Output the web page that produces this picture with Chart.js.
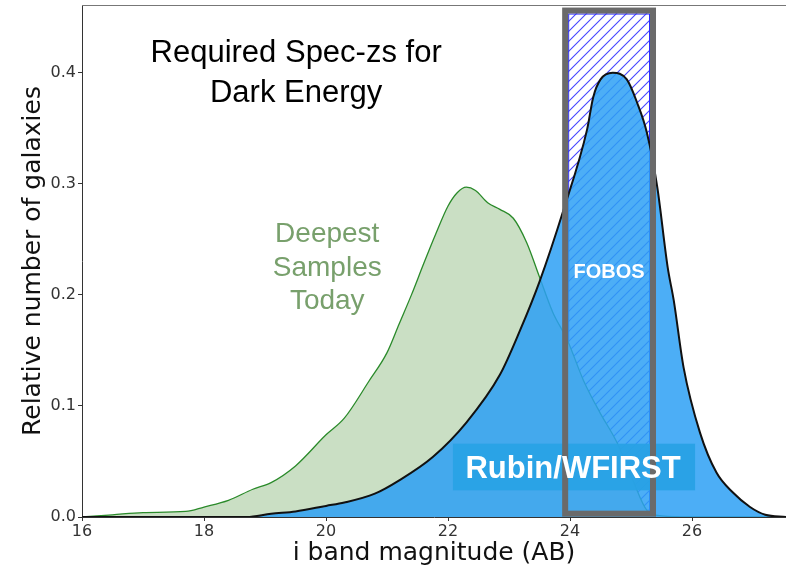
<!DOCTYPE html>
<html>
<head>
<meta charset="utf-8">
<script src="https://cdn.jsdelivr.net/npm/chart.js@4.4.1/dist/chart.umd.min.js"></script>
<style>
  html, body { margin: 0; padding: 0; background: #fff; }
  #wrap { width: 786px; height: 570px; }
</style>
</head>
<body>
<div id="wrap"><canvas id="chart" width="786" height="570"></canvas></div>
<script>
// i-band magnitude distributions
const deepMag = [16.0, 16.5, 17.0, 17.7, 18.0, 18.4, 18.8, 19.1, 19.5, 20.0, 20.3, 20.7, 21.0, 21.2, 21.4, 21.6,
                 21.8, 22.0, 22.15, 22.3, 22.45, 22.65, 22.85, 23.07, 23.29, 23.5, 23.72, 23.95, 24.22, 24.49,
                 24.77, 25.03, 25.26, 25.5, 26.0, 27.54];
const deepFrac = [0.000, 0.002, 0.004, 0.005, 0.009, 0.015, 0.025, 0.031, 0.046, 0.074, 0.089, 0.122, 0.148, 0.174, 0.200, 0.228,
                  0.255, 0.280, 0.292, 0.297, 0.294, 0.283, 0.277, 0.269, 0.247, 0.216, 0.184, 0.160, 0.123, 0.094,
                  0.067, 0.033, 0.006, 0.001, 0.000, 0.000];

const rubinMag = [16.0, 18.7, 19.1, 19.5, 20.0, 20.3, 20.8, 21.2, 21.75, 22.3, 22.85, 23.18, 23.5, 23.89, 24.28, 24.38,
                  24.5, 24.7, 24.93, 25.1, 25.26, 25.43, 25.6, 25.7, 25.86, 26.13, 26.4, 26.67, 26.95, 27.2, 27.54];
const rubinFrac = [0.000, 0.000, 0.003, 0.005, 0.010, 0.013, 0.021, 0.033, 0.054, 0.085, 0.128, 0.168, 0.212, 0.276, 0.349, 0.378,
                   0.394, 0.400, 0.394, 0.373, 0.346, 0.297, 0.225, 0.195, 0.135, 0.076, 0.040, 0.022, 0.009, 0.002, 0.000];

// FOBOS window in magnitude
const fobosMag = [23.92, 25.36];
const fobosFrac = [0.003, 0.456];

const xTicks = [16, 18, 20, 22, 24, 26];
const yTicks = [0.0, 0.1, 0.2, 0.3, 0.4];

const axisFont = "'DejaVu Sans', sans-serif";
const textFont = "'Liberation Sans', Arial, sans-serif";

function toPoints(xs, ys) {
    return xs.map((x, i) => ({ x: x, y: ys[i] }));
}

// diagonal "///" hatch
function makeHatch() {
    const c = document.createElement('canvas');
    c.width = 10; c.height = 10;
    const g = c.getContext('2d');
    g.strokeStyle = 'rgb(70,70,255)';
    g.lineWidth = 1.1;
    g.beginPath();
    g.moveTo(0, 10); g.lineTo(10, 0);
    g.moveTo(-2, 2); g.lineTo(2, -2);
    g.moveTo(8, 12); g.lineTo(12, 8);
    g.stroke();
    return g.createPattern(c, 'repeat');
}

const overlay = {
    id: 'overlay',
    beforeDatasetsDraw(chart) {
        const { ctx, scales: { x, y } } = chart;
        const l = x.getPixelForValue(fobosMag[0]), r = x.getPixelForValue(fobosMag[1]);
        const t = y.getPixelForValue(fobosFrac[1]), b = y.getPixelForValue(fobosFrac[0]);
        ctx.save();
        ctx.fillStyle = makeHatch();
        ctx.fillRect(l, t, r - l, b - t);
        ctx.strokeStyle = '#2a2aff';
        ctx.lineWidth = 1;
        ctx.strokeRect(l + 3.5, t + 3.5, r - l - 7, b - t - 7);
        ctx.restore();
    },
    afterDatasetsDraw(chart) {
        const { ctx, chartArea, scales: { x, y } } = chart;
        ctx.save();

        // top spine
        ctx.strokeStyle = '#777';
        ctx.lineWidth = 1;
        ctx.beginPath();
        ctx.moveTo(chartArea.left, chartArea.top + 0.5);
        ctx.lineTo(chartArea.right, chartArea.top + 0.5);
        ctx.stroke();

        // Rubin/WFIRST label box
        const bl = x.getPixelForValue(22.08), br = x.getPixelForValue(26.05);
        const bt = y.getPixelForValue(0.066), bb = y.getPixelForValue(0.024);
        ctx.fillStyle = 'rgba(40,162,228,0.9)';
        ctx.fillRect(bl, bt, br - bl, bb - bt);

        // FOBOS frame
        const l = x.getPixelForValue(fobosMag[0]), r = x.getPixelForValue(fobosMag[1]);
        const t = y.getPixelForValue(fobosFrac[1]), b = y.getPixelForValue(fobosFrac[0]);
        ctx.strokeStyle = '#6a6a6a';
        ctx.lineWidth = 6;
        ctx.strokeRect(l, t, r - l, b - t);

        ctx.textAlign = 'center';
        ctx.textBaseline = 'middle';

        ctx.fillStyle = '#000';
        ctx.font = '31px ' + textFont;
        ctx.fillText('Required Spec-zs for', x.getPixelForValue(19.51), y.getPixelForValue(0.417));
        ctx.fillText('Dark Energy', x.getPixelForValue(19.51), y.getPixelForValue(0.381));

        ctx.fillStyle = '#78a06c';
        ctx.font = '28px ' + textFont;
        ctx.fillText('Deepest', x.getPixelForValue(20.02), y.getPixelForValue(0.255));
        ctx.fillText('Samples', x.getPixelForValue(20.02), y.getPixelForValue(0.224));
        ctx.fillText('Today', x.getPixelForValue(20.02), y.getPixelForValue(0.194));

        ctx.fillStyle = '#fff';
        ctx.font = 'bold 20px ' + textFont;
        ctx.fillText('FOBOS', x.getPixelForValue(24.64), y.getPixelForValue(0.220));

        ctx.font = 'bold 31px ' + textFont;
        ctx.fillText('Rubin/WFIRST', x.getPixelForValue(24.05), y.getPixelForValue(0.043));

        ctx.restore();
    }
};

const ctx = document.getElementById('chart').getContext('2d');
new Chart(ctx, {
    type: 'scatter',
    data: {
        datasets: [
            {
                label: 'Rubin/WFIRST',
                data: toPoints(rubinMag, rubinFrac),
                showLine: true,
                fill: 'origin',
                backgroundColor: 'rgba(45,160,245,0.85)',
                borderColor: '#111',
                borderWidth: 2,
                pointRadius: 0,
                cubicInterpolationMode: 'monotone'
            },
            {
                label: 'Deepest Samples Today',
                data: toPoints(deepMag, deepFrac),
                showLine: true,
                fill: 'origin',
                backgroundColor: 'rgb(202,223,196)',
                borderColor: '#2a8a2a',
                borderWidth: 1.3,
                pointRadius: 0,
                cubicInterpolationMode: 'monotone'
            }
        ]
    },
    options: {
        responsive: false,
        animation: false,
        layout: { padding: { left: 0, right: 0, top: 5, bottom: 0 } },
        plugins: {
            legend: { display: false },
            tooltip: { enabled: false }
        },
        scales: {
            x: {
                type: 'linear',
                min: 16,
                max: 27.54,
                afterBuildTicks: s => { s.ticks = xTicks.map(v => ({ value: v })); },
                afterFit: s => { s.height = 53; s.paddingLeft = 0; s.paddingRight = 0; },
                grid: { display: true, drawOnChartArea: false, drawTicks: true, tickLength: 4, color: '#333' },
                border: { display: true, color: '#333', width: 1 },
                ticks: { color: '#333', font: { family: axisFont, size: 16 }, padding: 1, maxRotation: 0 },
                title: { display: true, text: 'i band magnitude (AB)', color: '#111',
                         font: { family: axisFont, size: 25 }, padding: { top: 0, bottom: 2 } }
            },
            y: {
                type: 'linear',
                min: 0,
                max: 0.461,
                afterBuildTicks: s => { s.ticks = yTicks.map(v => ({ value: v })); },
                afterFit: s => { s.width = 82; s.paddingTop = 0; s.paddingBottom = 0; },
                grid: { display: true, drawOnChartArea: false, drawTicks: true, tickLength: 4, color: '#333' },
                border: { display: true, color: '#333', width: 1 },
                ticks: { color: '#333', font: { family: axisFont, size: 16 }, padding: 2,
                         callback: v => v.toFixed(1) },
                title: { display: true, text: 'Relative number of galaxies', color: '#111',
                         font: { family: axisFont, size: 25 }, padding: { top: 18, bottom: 0 } }
            }
        }
    },
    plugins: [overlay]
});
</script>
</body>
</html>
